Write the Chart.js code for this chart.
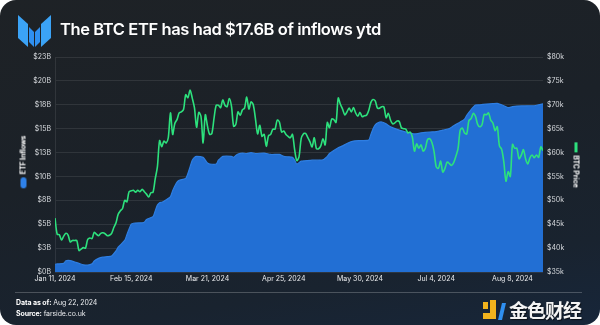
<!DOCTYPE html>
<html>
<head>
<meta charset="utf-8">
<script src="https://cdn.jsdelivr.net/npm/chart.js@4.4.1/dist/chart.umd.min.js"></script>
<style>
  html, body { margin: 0; padding: 0; background: #ffffff; }
  #card {
    position: relative; width: 600px; height: 325px; overflow: hidden;
    border-radius: 16px;
    background: linear-gradient(170deg, #1e2226 0%, #1b2128 45%, #19232f 80%, #17263a 100%);
    font-family: Inter, "Liberation Sans", sans-serif; color: #ffffff;
  }
  #chart { position: absolute; left: 0; top: 0; }
  #logo { position: absolute; left: 15px; top: 12px; }
  #title {
    position: absolute; left: 60px; top: 19px; font-size: 16.5px; font-weight: 600;
    letter-spacing: -0.4px; white-space: nowrap;
  }
  .axis-title {
    position: absolute; font-size: 7px; font-weight: 700; white-space: nowrap;
    display: flex; align-items: center; gap: 3px; letter-spacing: -0.1px;
  }
  #leftTitle { left: 23px; top: 162px; transform: translate(-50%, -50%) rotate(-90deg); }
  #rightTitle { left: 576px; top: 165px; transform: translate(-50%, -50%) rotate(90deg); }
  .pill { display: inline-block; width: 11px; height: 6px; border-radius: 3px; background: #2f82ea; }
  .dash { display: inline-block; width: 10px; height: 2.5px; background: #2de17d; }
  #rule { position: absolute; left: 15px; top: 292px; width: 567px; height: 1px; background: rgba(255,255,255,0.22); }
  .foot { position: absolute; left: 16px; font-size: 7px; color: #e8eaed; white-space: nowrap; letter-spacing: -0.1px; }
  .foot b { font-weight: 700; color: #ffffff; }
  #mark { position: absolute; left: 482px; top: 296px; display: flex; align-items: center; gap: 1px; }
  #mark span {
    font-family: "Noto Sans CJK SC", sans-serif; font-size: 19px; font-weight: 700; color: #f4f4f4;
    letter-spacing: -1px; text-shadow: 1px 1px 1px rgba(0,0,0,0.6);
  }
</style>
</head>
<body>
<div id="card">
  <canvas id="chart" width="600" height="325"></canvas>

  <svg id="logo" width="40" height="38" viewBox="0 0 40 38">
    <polygon points="3,3 13,12 13,35 3,26" fill="#3ba3f6"/>
    <polygon points="14,15 19,20 19,35 14,30" fill="#2f8ff0"/>
    <polygon points="20,20 25,15 25,30 20,35" fill="#2f8ff0"/>
    <polygon points="26,12 36,3 36,26 26,35" fill="#3ba3f6"/>
  </svg>
  <div id="title">The BTC ETF has had $17.6B of inflows ytd</div>

  <div id="leftTitle" class="axis-title"><span class="pill"></span><span>ETF Inflows</span></div>
  <div id="rightTitle" class="axis-title"><span class="dash"></span><span>BTC Price</span></div>

  <div id="rule"></div>
  <div class="foot" style="top:298px"><b>Data as of:</b> Aug 22, 2024</div>
  <div class="foot" style="top:309px"><b>Source:</b> farside.co.uk</div>

  <div id="mark">
    <svg width="26" height="22" viewBox="0 0 26 22">
      <rect x="1" y="3" width="5" height="7" fill="#f2b31d"/>
      <polygon points="8,1 14,1 14,20 1,20 1,14 8,14" fill="#f2b31d"/>
      <polygon points="20,4 24,4 20,21 16,21" fill="#2f8ff0"/>
    </svg>
    <span>金色财经</span>
  </div>
</div>

<script>
// day 0 = Jan 11, 2024
var START = Date.UTC(2024, 0, 11);
var tickDays = [0, 35, 70, 105, 140, 175, 210];

// BTC daily close, $k, Jan 11 .. Aug 22
var btcPrice = [
  46.3, 42.9, 42.8, 41.7, 42.5, 43.1, 42.7, 41.3, 41.6, 41.6, 41.6, 39.5, 39.8, 40.1, 40.0, 41.8, 42.1, 42.0, 43.3, 42.9, 42.6,
  43.1, 43.2, 43.0, 42.6, 42.7, 43.1, 44.3, 45.3, 47.1, 47.8, 48.3, 50.0, 49.7, 51.8, 52.0, 52.1, 51.7, 52.1, 51.8, 52.3,
  51.8, 51.3, 50.7, 51.6, 51.7, 54.5, 57.0, 62.5, 61.2,
  62.4, 62.0, 63.1, 68.3, 63.8, 66.1, 66.9, 68.3, 68.5, 69.0, 72.1, 71.5, 73.1, 71.4, 69.4, 65.3, 68.4, 67.6, 62.0, 67.9,
  65.5, 63.8, 64.0, 67.2, 69.9, 69.9, 69.4, 71.0, 69.9, 69.6, 71.3,
  69.7, 65.5, 65.9, 68.5, 67.8, 68.9, 69.3, 71.6, 69.1, 70.6, 70.0, 67.1, 63.9, 65.7, 63.4, 63.8, 61.3, 63.5, 63.8, 64.9,
  64.9, 66.8, 66.4, 64.3, 64.5, 63.8, 63.4, 63.1, 63.8, 60.6,
  58.3, 59.1, 62.9, 63.9, 64.0, 63.2, 62.3, 61.2, 63.1, 60.8, 60.8, 61.4, 62.9, 61.6, 66.3, 65.2, 67.0, 66.9, 66.3, 71.4,
  70.1, 69.1, 67.9, 68.5, 69.3, 68.5, 69.4, 68.3, 67.6, 68.4, 67.5,
  67.7, 67.8, 68.8, 70.5, 71.1, 70.8, 69.3, 69.3, 69.6, 69.5, 67.3, 68.2, 66.8, 66.0, 66.2, 66.6, 66.5, 65.2, 65.0, 64.9,
  64.1, 64.3, 63.3, 60.3, 61.8, 60.9, 61.6, 60.3, 60.9, 62.7,
  62.9, 62.1, 60.2, 57.0, 56.7, 58.2, 55.9, 56.7, 58.0, 57.7, 57.3, 57.9, 59.2, 60.8, 64.7, 65.1, 64.1, 63.9, 66.7, 67.1,
  68.2, 67.6, 65.9, 65.4, 65.8, 68.0, 67.9, 68.3, 66.8, 66.2, 64.6,
  65.4, 61.4, 60.7, 58.1, 54.0, 56.0, 55.0, 61.7, 60.9, 60.9, 58.7, 59.4, 60.6, 58.7, 57.6, 58.9, 59.5, 58.9, 59.5, 59.0,
  61.2, 60.4
];

// cumulative ETF net inflows, $B
var etfDays = [
  0, 1, 4, 5, 7, 9, 11, 13, 15, 17, 18, 20, 22, 24, 26, 28, 29, 32, 33, 34, 35, 36, 40, 41, 42, 45, 46, 47, 48, 49,
  50, 53, 54, 55, 56, 57, 60, 61, 62, 63, 64, 65, 68, 69, 70, 71, 74, 75, 76, 77, 81, 82, 83, 84, 86, 88, 90, 92, 96,
  99, 103, 105, 107, 109, 110, 111, 113, 118, 123, 125, 126, 130, 132, 134, 137, 140, 144, 145, 146, 147, 148, 150,
  152, 154, 158, 162, 165, 168, 172, 175, 178, 181, 183, 186, 188, 189, 191, 193, 195, 198, 201, 203, 205, 207, 208,
  210, 212, 215, 218, 220, 222, 224
];
var etfFlows = [
  0.80, 0.85, 0.90, 1.18, 1.20, 1.05, 0.90, 0.75, 0.72, 0.85, 1.15, 1.43, 1.55, 1.60, 1.68, 2.20, 2.60, 3.30, 3.90, 4.50,
  5.00, 5.10, 5.15, 5.20, 5.50, 5.80, 6.40, 7.00, 7.25, 7.30,
  7.40, 7.90, 8.50, 9.00, 9.40, 9.60, 9.80, 10.30, 11.00, 11.70, 12.00, 12.10, 12.00, 11.70, 11.40, 11.30, 11.30, 11.70,
  11.90, 12.10, 12.10, 12.00, 12.20, 12.35, 12.45, 12.40, 12.50, 12.40, 12.45,
  12.30, 12.30, 12.10, 12.05, 12.00, 11.70, 11.30, 11.60, 11.70, 11.75, 12.10, 12.40, 13.00, 13.20, 13.45, 13.70, 13.75,
  13.80, 14.40, 15.00, 15.40, 15.60, 15.70,
  15.50, 15.20, 14.85, 14.60, 14.45, 14.55, 14.65, 14.70, 14.85, 15.00, 15.30, 15.70, 16.00, 16.40, 17.00, 17.47, 17.50,
  17.57, 17.62, 17.65, 17.50, 17.30, 17.20,
  17.30, 17.36, 17.38, 17.40, 17.40, 17.50, 17.60
];

function fmtDate(d) {
  return new Date(START + d * 86400000).toLocaleDateString('en-US', {
    month: 'short', day: 'numeric', year: 'numeric', timeZone: 'UTC'
  });
}

var gridColor = 'rgba(255,255,255,0.09)';
var tickColor = '#d7dade';

new Chart(document.getElementById('chart'), {
  type: 'line',
  data: {
    datasets: [
      {
        label: 'BTC Price',
        data: btcPrice.map(function (v, i) { return { x: i, y: v }; }),
        yAxisID: 'y1',
        borderColor: '#2de17d',
        borderWidth: 1.6,
        pointRadius: 0,
        tension: 0.3,
        fill: false,
        order: 0
      },
      {
        label: 'ETF Inflows',
        data: etfDays.map(function (d, i) { return { x: d, y: etfFlows[i] }; }),
        yAxisID: 'y',
        borderColor: '#2e7ee2',
        backgroundColor: '#226fd4',
        borderWidth: 1.2,
        pointRadius: 0,
        tension: 0.2,
        fill: 'origin',
        order: 1
      }
    ]
  },
  options: {
    responsive: false,
    animation: false,
    layout: { padding: { top: 57, bottom: 35, left: 0, right: 0 } },
    plugins: { legend: { display: false }, tooltip: { enabled: false } },
    scales: {
      x: {
        type: 'linear',
        min: 0,
        max: 224,
        afterBuildTicks: function (axis) {
          axis.ticks = tickDays.map(function (v) { return { value: v }; });
        },
        afterFit: function (axis) { axis.height = 18; },
        grid: { display: false, drawTicks: false },
        border: { display: false },
        ticks: {
          autoSkip: false,
          maxRotation: 0,
          padding: 3,
          color: '#e8eaed',
          font: { family: 'Inter', size: 7 },
          callback: function (v) { return fmtDate(v); }
        }
      },
      y: {
        position: 'left',
        min: 0,
        max: 22.5,
        afterFit: function (axis) { axis.width = 55; },
        grid: { color: gridColor, drawTicks: false },
        border: { display: true, color: gridColor },
        ticks: {
          stepSize: 2.5,
          padding: 4,
          color: tickColor,
          font: { family: 'Inter', size: 7 },
          callback: function (v) { return '$' + Math.round(v) + 'B'; }
        }
      },
      y1: {
        position: 'right',
        min: 35,
        max: 80,
        afterFit: function (axis) { axis.width = 57; },
        grid: { display: false, drawTicks: false },
        border: { display: false },
        ticks: {
          stepSize: 5,
          padding: 4,
          color: tickColor,
          font: { family: 'Inter', size: 7 },
          callback: function (v) { return '$' + v + 'k'; }
        }
      }
    }
  }
});
</script>
</body>
</html>
